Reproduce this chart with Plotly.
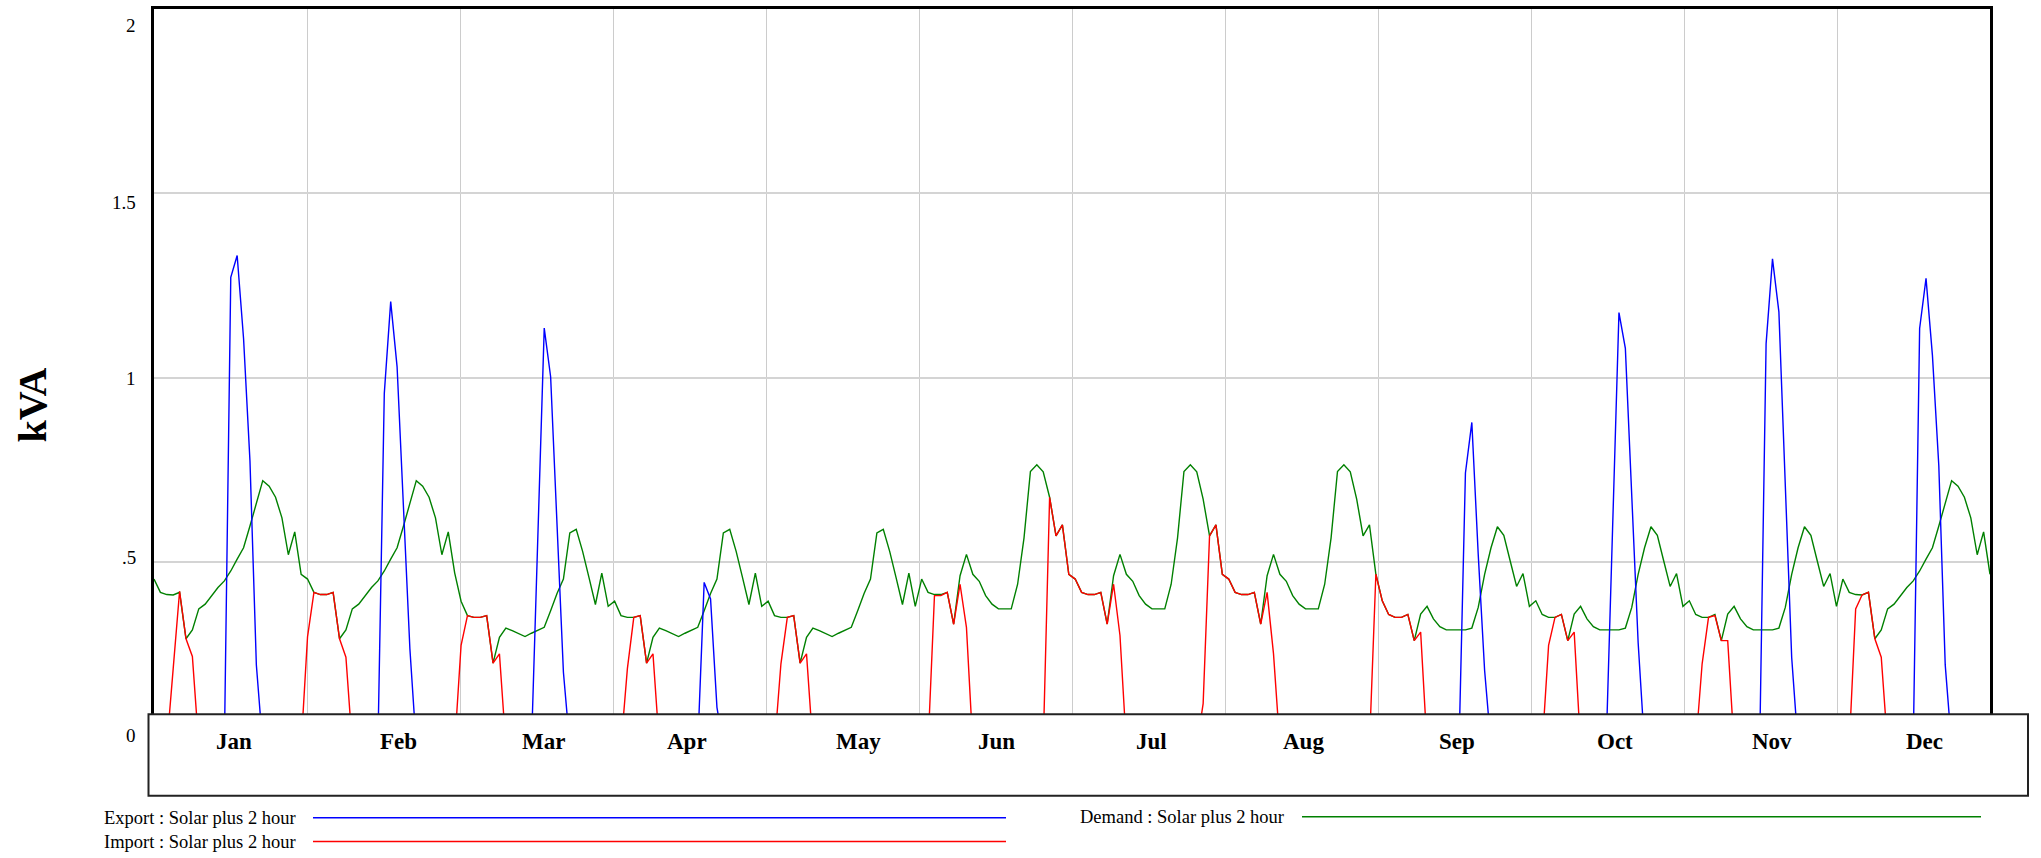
import plotly.graph_objects as go

# ---------------------------------------------------------------------------
# Data: one value per hour of a representative day, for each month (24 x 12)
# ---------------------------------------------------------------------------
MONTHS = ["Jan", "Feb", "Mar", "Apr", "May", "Jun",
          "Jul", "Aug", "Sep", "Oct", "Nov", "Dec"]

DEMAND = [
    # Jan
    0.453, 0.417, 0.411, 0.410, 0.417, 0.291, 0.315, 0.372, 0.385, 0.408, 0.430, 0.448,
    0.475, 0.507, 0.538, 0.597, 0.655, 0.720, 0.705, 0.675, 0.619, 0.519, 0.581, 0.466,
    # Feb
    0.453, 0.417, 0.411, 0.411, 0.417, 0.291, 0.315, 0.372, 0.385, 0.408, 0.430, 0.448,
    0.475, 0.507, 0.538, 0.597, 0.655, 0.720, 0.705, 0.675, 0.619, 0.519, 0.581, 0.470,
    # Mar
    0.393, 0.354, 0.349, 0.349, 0.354, 0.225, 0.295, 0.320, 0.313, 0.306, 0.297, 0.306,
    0.315, 0.322, 0.367, 0.414, 0.453, 0.578, 0.588, 0.528, 0.457, 0.384, 0.469, 0.379,
    # Apr
    0.393, 0.354, 0.349, 0.349, 0.354, 0.225, 0.295, 0.320, 0.313, 0.306, 0.297, 0.306,
    0.315, 0.322, 0.367, 0.414, 0.453, 0.578, 0.588, 0.528, 0.457, 0.384, 0.469, 0.379,
    # May
    0.393, 0.354, 0.349, 0.349, 0.354, 0.225, 0.295, 0.320, 0.313, 0.306, 0.297, 0.306,
    0.315, 0.322, 0.367, 0.414, 0.453, 0.578, 0.588, 0.528, 0.457, 0.384, 0.469, 0.379,
    # Jun
    0.453, 0.417, 0.411, 0.411, 0.417, 0.331, 0.462, 0.520, 0.466, 0.447, 0.408, 0.385,
    0.372, 0.372, 0.372, 0.439, 0.565, 0.745, 0.763, 0.744, 0.675, 0.570, 0.600, 0.466,
    # Jul
    0.453, 0.417, 0.411, 0.411, 0.417, 0.331, 0.462, 0.520, 0.466, 0.447, 0.408, 0.385,
    0.372, 0.372, 0.372, 0.439, 0.565, 0.745, 0.763, 0.744, 0.670, 0.570, 0.600, 0.466,
    # Aug
    0.453, 0.417, 0.411, 0.411, 0.417, 0.331, 0.462, 0.520, 0.466, 0.447, 0.408, 0.385,
    0.372, 0.372, 0.372, 0.439, 0.565, 0.745, 0.763, 0.744, 0.670, 0.570, 0.600, 0.466,
    # Sep
    0.394, 0.357, 0.349, 0.349, 0.357, 0.286, 0.358, 0.379, 0.345, 0.324, 0.315, 0.315,
    0.315, 0.315, 0.320, 0.376, 0.466, 0.538, 0.595, 0.572, 0.502, 0.433, 0.468, 0.379,
    # Oct
    0.394, 0.357, 0.349, 0.349, 0.357, 0.286, 0.358, 0.379, 0.345, 0.324, 0.315, 0.315,
    0.315, 0.315, 0.320, 0.376, 0.466, 0.538, 0.595, 0.572, 0.502, 0.433, 0.468, 0.379,
    # Nov
    0.394, 0.357, 0.349, 0.349, 0.357, 0.286, 0.358, 0.379, 0.345, 0.324, 0.315, 0.315,
    0.315, 0.315, 0.320, 0.376, 0.466, 0.538, 0.595, 0.572, 0.502, 0.433, 0.468, 0.379,
    # Dec
    0.453, 0.417, 0.411, 0.410, 0.417, 0.291, 0.315, 0.372, 0.385, 0.408, 0.430, 0.448,
    0.475, 0.507, 0.538, 0.597, 0.655, 0.720, 0.705, 0.675, 0.619, 0.519, 0.581, 0.466,
]

EXPORT = [
    # Jan
    0, 0, 0, 0, 0, 0, 0, 0, 0, 0, 0, 0,
    1.272, 1.331, 1.106, 0.774, 0.220, 0, 0, 0, 0, 0, 0, 0,
    # Feb
    0, 0, 0, 0, 0, 0, 0, 0, 0, 0, 0, 0,
    0.957, 1.206, 1.029, 0.656, 0.264, 0, 0, 0, 0, 0, 0, 0,
    # Mar
    0, 0, 0, 0, 0, 0, 0, 0, 0, 0, 0, 0,
    0.567, 1.134, 1.002, 0.600, 0.200, 0, 0, 0, 0, 0, 0, 0,
    # Apr
    0, 0, 0, 0, 0, 0, 0, 0, 0, 0, 0, 0,
    0, 0, 0.444, 0.399, 0.105, 0, 0, 0, 0, 0, 0, 0,
    # May
    0, 0, 0, 0, 0, 0, 0, 0, 0, 0, 0, 0,
    0, 0, 0, 0, 0, 0, 0, 0, 0, 0, 0, 0,
    # Jun
    0, 0, 0, 0, 0, 0, 0, 0, 0, 0, 0, 0,
    0, 0, 0, 0, 0, 0, 0, 0, 0, 0, 0, 0,
    # Jul
    0, 0, 0, 0, 0, 0, 0, 0, 0, 0, 0, 0,
    0, 0, 0, 0, 0, 0, 0, 0, 0, 0, 0, 0,
    # Aug
    0, 0, 0, 0, 0, 0, 0, 0, 0, 0, 0, 0,
    0, 0, 0, 0, 0, 0, 0, 0, 0, 0, 0, 0,
    # Sep
    0, 0, 0, 0, 0, 0, 0, 0, 0, 0, 0, 0,
    0, 0.741, 0.878, 0.520, 0.205, 0, 0, 0, 0, 0, 0, 0,
    # Oct
    0, 0, 0, 0, 0, 0, 0, 0, 0, 0, 0, 0,
    0.588, 1.176, 1.079, 0.680, 0.280, 0, 0, 0, 0, 0, 0, 0,
    # Nov
    0, 0, 0, 0, 0, 0, 0, 0, 0, 0, 0, 0,
    1.092, 1.322, 1.178, 0.710, 0.240, 0, 0, 0, 0, 0, 0, 0,
    # Dec
    0, 0, 0, 0, 0, 0, 0, 0, 0, 0, 0, 0,
    1.133, 1.269, 1.060, 0.760, 0.220, 0, 0, 0, 0, 0, 0, 0,
]

IMPORT = [
    # Jan
    0, 0, 0, 0.210, 0.420, 0.291, 0.243, 0, 0, 0, 0, 0,
    0, 0, 0, 0, 0, 0, 0, 0, 0, 0, 0, 0,
    # Feb
    0.296, 0.417, 0.411, 0.411, 0.417, 0.291, 0.241, 0, 0, 0, 0, 0,
    0, 0, 0, 0, 0, 0, 0, 0, 0, 0, 0, 0,
    # Mar
    0.273, 0.354, 0.349, 0.349, 0.354, 0.225, 0.250, 0, 0, 0, 0, 0,
    0, 0, 0, 0, 0, 0, 0, 0, 0, 0, 0, 0,
    # Apr
    0, 0, 0.210, 0.349, 0.354, 0.225, 0.250, 0, 0, 0, 0, 0,
    0, 0, 0, 0, 0, 0, 0, 0, 0, 0, 0, 0,
    # May
    0, 0, 0.223, 0.349, 0.354, 0.225, 0.250, 0, 0, 0, 0, 0,
    0, 0, 0, 0, 0, 0, 0, 0, 0, 0, 0, 0,
    # Jun
    0, 0, 0.408, 0.408, 0.417, 0.330, 0.439, 0.322, 0, 0, 0, 0,
    0, 0, 0, 0, 0, 0, 0, 0, 0.675, 0.570, 0.600, 0.466,
    # Jul
    0.453, 0.417, 0.411, 0.411, 0.417, 0.331, 0.439, 0.300, 0, 0, 0, 0,
    0, 0, 0, 0, 0, 0, 0, 0, 0.115, 0.570, 0.600, 0.466,
    # Aug
    0.453, 0.417, 0.411, 0.411, 0.417, 0.331, 0.417, 0.250, 0, 0, 0, 0,
    0, 0, 0, 0, 0, 0, 0, 0, 0, 0, 0, 0.466,
    # Sep
    0.394, 0.357, 0.349, 0.349, 0.357, 0.286, 0.309, 0, 0, 0, 0, 0,
    0, 0, 0, 0, 0, 0, 0, 0, 0, 0, 0, 0,
    # Oct
    0, 0, 0.273, 0.349, 0.357, 0.286, 0.309, 0, 0, 0, 0, 0,
    0, 0, 0, 0, 0, 0, 0, 0, 0, 0, 0, 0,
    # Nov
    0, 0, 0.223, 0.349, 0.354, 0.286, 0.286, 0, 0, 0, 0, 0,
    0, 0, 0, 0, 0, 0, 0, 0, 0, 0, 0, 0,
    # Dec
    0, 0, 0.372, 0.410, 0.417, 0.291, 0.241, 0, 0, 0, 0, 0,
    0, 0, 0, 0, 0, 0, 0, 0, 0, 0, 0, 0,
]

Y_TICKS = [0, 0.5, 1, 1.5, 2]
Y_TICK_TEXT = ["0", ".5", "1", "1.5", "2"]

SERIES = [
    ("Demand : Solar plus 2 hour", DEMAND, "#008000"),
    ("Export : Solar plus 2 hour", EXPORT, "#0000ff"),
    ("Import : Solar plus 2 hour", IMPORT, "#ff0000"),
]

# ---------------------------------------------------------------------------
# Page geometry (pixels)
# ---------------------------------------------------------------------------
W, H = 2041, 858
M_L, M_R, M_T, M_B = 154, 51, 6, 112
PW, PH = W - M_L - M_R, H - M_T - M_B

SERIF = "Liberation Serif, Times New Roman, serif"

n = len(DEMAND)
hours = list(range(n))
x_max = n - 1
month_len = x_max / len(MONTHS)


def fx(px):
    """Horizontal page pixel -> paper fraction."""
    return (px - M_L) / PW


def fy(py):
    """Vertical page pixel (from top) -> paper fraction."""
    return (H - M_B - py) / PH


fig = go.Figure()

for name, values, color in SERIES:
    fig.add_trace(go.Scatter(
        x=hours, y=values, mode="lines", name=name,
        line=dict(color=color, width=1.4),
        hoverinfo="x+y+name",
    ))

fig.update_layout(
    width=W, height=H,
    margin=dict(l=M_L, r=M_R, t=M_T, b=M_B, pad=0),
    paper_bgcolor="white", plot_bgcolor="white",
    showlegend=False,
    font=dict(family=SERIF, color="black"),
    xaxis=dict(
        range=[0, x_max],
        tickvals=[month_len * k for k in range(1, len(MONTHS))],
        showticklabels=False, ticks="",
        showgrid=True, gridcolor="#cccccc", gridwidth=1.3,
        zeroline=False,
        showline=True, linecolor="black", linewidth=2.5, mirror=True,
    ),
    yaxis=dict(
        range=[0, 2],
        tickvals=Y_TICKS,
        showticklabels=False, ticks="",
        showgrid=True, gridcolor="#d4d4d4", gridwidth=1.5,
        zeroline=False,
        showline=True, linecolor="black", linewidth=2.5, mirror=True,
    ),
)

shapes = []
annotations = []

# Time-axis panel that sits over the bottom of the plot
shapes.append(dict(
    type="rect", xref="paper", yref="paper",
    x0=fx(148.5), x1=fx(2028), y0=fy(796), y1=fy(714),
    fillcolor="white", line=dict(color="#222222", width=2), layer="above",
))

# Month names inside the time-axis panel
MONTH_LABEL_PX = [234, 398, 543, 687, 858, 996, 1151, 1303, 1457, 1615, 1772, 1924]
for label, px in zip(MONTHS, MONTH_LABEL_PX):
    annotations.append(dict(
        text="<b>%s</b>" % label, xref="paper", yref="paper",
        x=fx(px), y=fy(741), xanchor="center", yanchor="middle",
        showarrow=False, font=dict(family=SERIF, size=23, color="black"),
    ))

# Value labels on the left, spread slightly as in the original layout
LABEL_SHIFT = [11, 4, -1, -9, -16]
for v, txt, sh in zip(Y_TICKS, Y_TICK_TEXT, LABEL_SHIFT):
    annotations.append(dict(
        text=txt, xref="paper", yref="y", x=fx(138), y=v, yshift=sh,
        xanchor="right", yanchor="middle", showarrow=False,
        font=dict(family=SERIF, size=19, color="black"),
    ))

# Axis title
annotations.append(dict(
    text="<b>kVA</b>", xref="paper", yref="paper", x=fx(32), y=fy(403),
    xanchor="center", yanchor="middle", textangle=-90, showarrow=False,
    font=dict(family=SERIF, size=40, color="black"),
))

# Legend rows below the chart
LEGEND_ROWS = [
    (SERIES[1][0], SERIES[1][2], 102, 313, 1006, 818),
    (SERIES[2][0], SERIES[2][2], 102, 313, 1006, 842),
    (SERIES[0][0], SERIES[0][2], 1078, 1302, 1981, 817),
]
for text, color, tx, lx0, lx1, ly in LEGEND_ROWS:
    annotations.append(dict(
        text=text, xref="paper", yref="paper", x=fx(tx), y=fy(ly),
        xanchor="left", yanchor="middle", showarrow=False,
        font=dict(family=SERIF, size=18.5, color="black"),
    ))
    shapes.append(dict(
        type="line", xref="paper", yref="paper",
        x0=fx(lx0), x1=fx(lx1), y0=fy(ly), y1=fy(ly),
        line=dict(color=color, width=1.5), layer="above",
    ))

fig.update_layout(shapes=shapes, annotations=annotations)

fig.write_html("out.html")
